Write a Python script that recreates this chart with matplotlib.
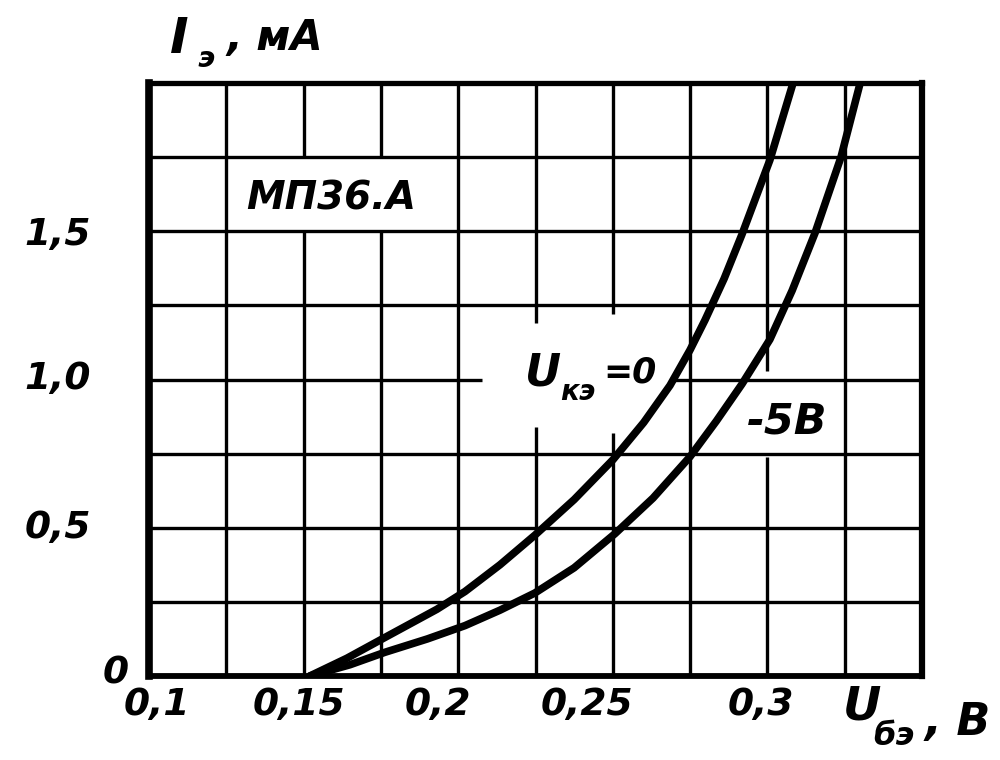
import numpy as np
import matplotlib
matplotlib.use("Agg")
import matplotlib.pyplot as plt
from matplotlib.transforms import ScaledTranslation

# ---------------- data ----------------
# Uкэ = 0 curve
u_be_0 = [0.152, 0.164, 0.1763, 0.1931, 0.2022, 0.2135, 0.2248, 0.2375,
          0.2501, 0.2600, 0.2685, 0.2750, 0.2798, 0.2860, 0.2918, 0.3008, 0.3083]
i_e_0 = [0.0, 0.06, 0.13, 0.225, 0.285, 0.375, 0.475, 0.595,
         0.73, 0.855, 0.98, 1.10, 1.20, 1.34, 1.49, 1.74, 2.0]
# Uкэ = -5 В curve
u_be_5 = [0.152, 0.165, 0.1763, 0.190, 0.2022, 0.2135, 0.2248, 0.2375, 0.2507,
          0.2630, 0.2750, 0.2835, 0.2918, 0.3008, 0.3080, 0.3154, 0.3238, 0.3300]
i_e_5 = [0.0, 0.038, 0.08, 0.125, 0.17, 0.222, 0.28, 0.365, 0.48,
         0.60, 0.74, 0.86, 0.985, 1.135, 1.30, 1.494, 1.75, 2.0]

x_ticks = [0.1, 0.15, 0.2, 0.25, 0.3]
x_tick_labels = ["0,1", "0,15", "0,2", "0,25", "0,3"]
y_ticks = [0.0, 0.5, 1.0, 1.5]
y_tick_labels = ["0", "0,5", "1,0", "1,5"]

x_grid = [0.125, 0.15, 0.175, 0.2, 0.225, 0.25, 0.275, 0.3, 0.325]
y_grid = [0.25, 0.5, 0.75, 1.0, 1.25, 1.5, 1.75]

# interruptions of the hand-drawn grid around the inscriptions
v_gaps = [(0.15, 1.5, 1.75), (0.175, 1.5, 1.75), (0.225, 0.84, 1.19),
          (0.25, 0.82, 1.22), (0.3, 0.74, 1.03)]
h_gaps = [(1.0, 0.2077, 0.2685)]

XMIN, XMAX, YMIN, YMAX = 0.1, 0.35, 0.0, 2.0

# ---------------- figure ----------------
fig = plt.figure(figsize=(10, 7.6), dpi=100)
ax = fig.add_axes([0.149, 0.1105, 0.773, 0.7803])
ax.set_xlim(XMIN, XMAX)
ax.set_ylim(YMIN, YMAX)

INK = "#000000"
FONT = dict(family="DejaVu Sans", weight="bold", style="italic", color=INK)


def segments(lo, hi, gaps):
    segs, start = [], lo
    for a, b in sorted(gaps):
        segs.append((start, a))
        start = b
    segs.append((start, hi))
    return segs


for x in x_grid:
    gaps = [(a, b) for (gx, a, b) in v_gaps if np.isclose(gx, x)]
    for a, b in segments(YMIN, YMAX, gaps):
        ax.plot([x, x], [a, b], color=INK, lw=2.4, solid_capstyle="butt", zorder=1)
for y in y_grid:
    gaps = [(a, b) for (gy, a, b) in h_gaps if np.isclose(gy, y)]
    for a, b in segments(XMIN, XMAX, gaps):
        ax.plot([a, b], [y, y], color=INK, lw=2.4, solid_capstyle="butt", zorder=1)

ax.plot(u_be_0, i_e_0, color=INK, lw=5.5, solid_capstyle="round",
        solid_joinstyle="round", zorder=3)
ax.plot(u_be_5, i_e_5, color=INK, lw=5.5, solid_capstyle="round",
        solid_joinstyle="round", zorder=3)

# frame
for side, lw in (("left", 5.5), ("right", 4.5), ("top", 3.8), ("bottom", 4.2)):
    ax.spines[side].set_linewidth(lw)
    ax.spines[side].set_color(INK)
    ax.spines[side].set_zorder(4)

# ticks
ax.set_xticks(x_ticks, x_tick_labels)
ax.set_yticks(y_ticks, y_tick_labels)
ax.tick_params(axis="x", length=0, pad=8)
ax.tick_params(axis="y", length=0, pad=42)
for lbl in ax.get_xticklabels() + ax.get_yticklabels():
    lbl.set_fontfamily("DejaVu Sans")
    lbl.set_fontweight("bold")
    lbl.set_fontstyle("italic")
    lbl.set_fontsize(27)
    lbl.set_color(INK)

x_dx = [8, -5, -20, -26, -7]  # pixel shifts of the hand-written labels
for lbl, dx in zip(ax.get_xticklabels(), x_dx):
    lbl.set_transform(lbl.get_transform() + ScaledTranslation(dx / 100, 0, fig.dpi_scale_trans))
y_dx = [38, 0, 0, 0]
y_dy = [7, 4, 5, 0]
for lbl, dx, dy in zip(ax.get_yticklabels(), y_dx, y_dy):
    lbl.set_transform(lbl.get_transform() + ScaledTranslation(dx / 100, dy / 100, fig.dpi_scale_trans))

# inscriptions inside the plot
ax.text(0.1589, 1.609, "МП36.А", fontsize=28, ha="center", va="center", zorder=5, **FONT)
ax.text(0.2216, 0.981, "U", fontsize=32, ha="left", va="baseline", zorder=5, **FONT)
ax.text(0.2330, 0.930, "кэ", fontsize=20, ha="left", va="baseline", zorder=5, **FONT)
ax.text(0.2470, 0.990, "=0", fontsize=25, ha="left", va="baseline", zorder=5, **FONT)
ax.text(0.3063, 0.86, "-5В", fontsize=31, ha="center", va="center", zorder=5, **FONT)

# axis titles
fig.text(0.170, 0.930, "I", fontsize=36, ha="left", va="baseline", **FONT)
fig.text(0.197, 0.912, "э", fontsize=21, ha="left", va="baseline", **FONT)
fig.text(0.226, 0.934, ", мА", fontsize=30, ha="left", va="baseline", **FONT)

fig.text(0.843, 0.053, "U", fontsize=34, ha="left", va="baseline", **FONT)
fig.text(0.873, 0.020, "бэ", fontsize=23, ha="left", va="baseline", **FONT)
fig.text(0.925, 0.033, ", В", fontsize=32, ha="left", va="baseline", **FONT)

fig.savefig("out.png", dpi=100, facecolor="white")
